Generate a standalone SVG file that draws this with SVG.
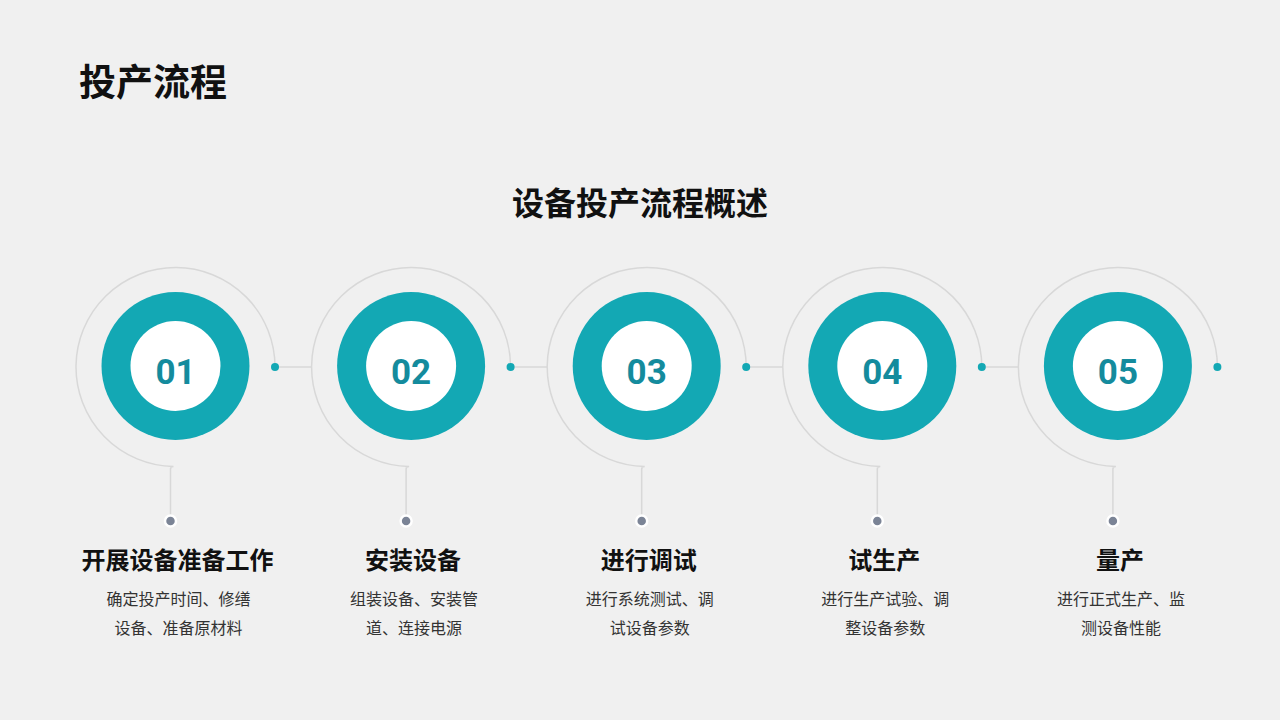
<svg xmlns="http://www.w3.org/2000/svg" width="1280" height="720" viewBox="0 0 1280 720">
<style>
.t{font-family:"Liberation Sans","Noto Sans CJK SC",sans-serif;}
.h1{font-size:37px;font-weight:bold;fill:#111;}
.h2{font-size:32px;font-weight:bold;fill:#111;text-anchor:middle;}
.num{font-size:35px;font-weight:bold;fill:#148b9d;text-anchor:middle;font-family:Roboto,"Liberation Sans",sans-serif;}
.lab{font-size:24px;font-weight:bold;fill:#111;text-anchor:middle;}
.desc{font-size:16px;fill:#333;text-anchor:middle;}
.arc{fill:none;stroke:#d8d8d8;stroke-width:1.5;}
.outer{fill:#13a8b4;}
.inner{fill:#ffffff;}
.tdot{fill:#13a8b4;}
.gdot{fill:#7b8496;stroke:#ffffff;stroke-width:2.5;}
</style>
<rect width="1280" height="720" fill="#f0f0f0"/>
<text class="t h1" x="79" y="96">投产流程</text>
<text class="t h2" x="640" y="215">设备投产流程概述</text>
<g id="connectors">
<line class="arc" x1="275" y1="367" x2="311.6" y2="367"/>
<line class="arc" x1="510.6" y1="367" x2="547.2" y2="367"/>
<line class="arc" x1="746.2" y1="367" x2="782.8" y2="367"/>
<line class="arc" x1="981.8" y1="367" x2="1018.4" y2="367"/>
</g>
<g id="node1" transform="translate(175.5,0)">
<path class="arc" d="M99.5,367 A99.5,99.5 0 1 0 -2,466.5 Q-5,466.5 -5,469 V516"/>
<circle class="tdot" cx="99.5" cy="367" r="4"/>
<circle class="outer" cx="0" cy="366" r="74"/>
<circle class="inner" cx="0" cy="366" r="45"/>
<text class="num" x="0" y="384">01</text>
<circle class="gdot" cx="-5" cy="521" r="5.5"/>
<text class="t lab" x="2" y="569">开展设备准备工作</text>
<text class="t desc" x="3" y="605">确定投产时间、修缮</text>
<text class="t desc" x="3" y="634">设备、准备原材料</text>
</g>
<g id="node2" transform="translate(411.1,0)">
<path class="arc" d="M99.5,367 A99.5,99.5 0 1 0 -2,466.5 Q-5,466.5 -5,469 V516"/>
<circle class="tdot" cx="99.5" cy="367" r="4"/>
<circle class="outer" cx="0" cy="366" r="74"/>
<circle class="inner" cx="0" cy="366" r="45"/>
<text class="num" x="0" y="384">02</text>
<circle class="gdot" cx="-5" cy="521" r="5.5"/>
<text class="t lab" x="2" y="569">安装设备</text>
<text class="t desc" x="3" y="605">组装设备、安装管</text>
<text class="t desc" x="3" y="634">道、连接电源</text>
</g>
<g id="node3" transform="translate(646.7,0)">
<path class="arc" d="M99.5,367 A99.5,99.5 0 1 0 -2,466.5 Q-5,466.5 -5,469 V516"/>
<circle class="tdot" cx="99.5" cy="367" r="4"/>
<circle class="outer" cx="0" cy="366" r="74"/>
<circle class="inner" cx="0" cy="366" r="45"/>
<text class="num" x="0" y="384">03</text>
<circle class="gdot" cx="-5" cy="521" r="5.5"/>
<text class="t lab" x="2" y="569">进行调试</text>
<text class="t desc" x="3" y="605">进行系统测试、调</text>
<text class="t desc" x="3" y="634">试设备参数</text>
</g>
<g id="node4" transform="translate(882.3,0)">
<path class="arc" d="M99.5,367 A99.5,99.5 0 1 0 -2,466.5 Q-5,466.5 -5,469 V516"/>
<circle class="tdot" cx="99.5" cy="367" r="4"/>
<circle class="outer" cx="0" cy="366" r="74"/>
<circle class="inner" cx="0" cy="366" r="45"/>
<text class="num" x="0" y="384">04</text>
<circle class="gdot" cx="-5" cy="521" r="5.5"/>
<text class="t lab" x="2" y="569">试生产</text>
<text class="t desc" x="3" y="605">进行生产试验、调</text>
<text class="t desc" x="3" y="634">整设备参数</text>
</g>
<g id="node5" transform="translate(1117.9,0)">
<path class="arc" d="M99.5,367 A99.5,99.5 0 1 0 -2,466.5 Q-5,466.5 -5,469 V516"/>
<circle class="tdot" cx="99.5" cy="367" r="4"/>
<circle class="outer" cx="0" cy="366" r="74"/>
<circle class="inner" cx="0" cy="366" r="45"/>
<text class="num" x="0" y="384">05</text>
<circle class="gdot" cx="-5" cy="521" r="5.5"/>
<text class="t lab" x="2" y="569">量产</text>
<text class="t desc" x="3" y="605">进行正式生产、监</text>
<text class="t desc" x="3" y="634">测设备性能</text>
</g>
</svg>
